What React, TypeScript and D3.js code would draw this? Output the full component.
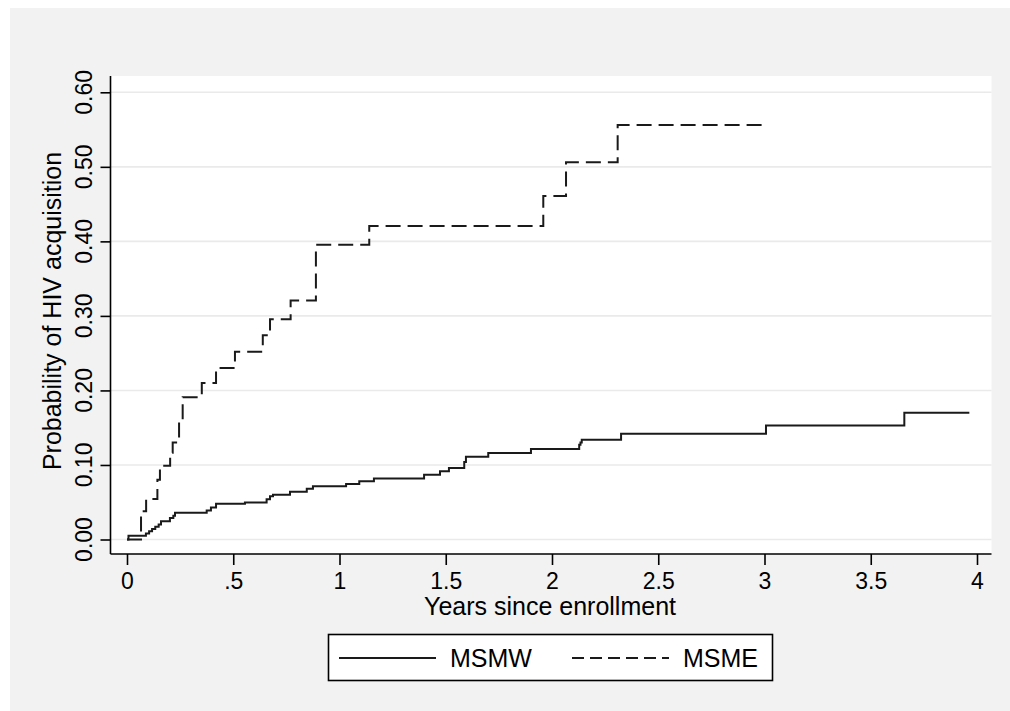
import { useEffect, useRef } from "react";
import * as d3 from "d3";

// Kaplan-Meier style cumulative probability
const msmwTimes = [
  0, 0.007, 0.089, 0.104, 0.118, 0.133, 0.149, 0.16, 0.202, 0.218, 0.226,
  0.375, 0.395, 0.419, 0.555, 0.657, 0.673, 0.687, 0.767, 0.846, 0.875,
  1.031, 1.093, 1.162, 1.398, 1.473, 1.515, 1.587, 1.595, 1.7, 1.901, 2.128,
  2.134, 2.14, 2.325, 3.007, 3.658, 3.964,
];
const msmwValues = [
  0, 0.005, 0.008, 0.011, 0.014, 0.017, 0.02, 0.0245, 0.029, 0.032, 0.036,
  0.039, 0.043, 0.0478, 0.0495, 0.054, 0.058, 0.06, 0.064, 0.068, 0.0714,
  0.0745, 0.078, 0.0817, 0.087, 0.0915, 0.096, 0.104, 0.111, 0.116, 0.1215,
  0.127, 0.13, 0.134, 0.142, 0.153, 0.17, 0.17,
];

const msmeTimes = [
  0, 0.066, 0.09, 0.143, 0.155, 0.203, 0.215, 0.245, 0.262, 0.352, 0.419,
  0.508, 0.639, 0.673, 0.77, 0.889, 1.14, 1.959, 2.066, 2.309, 2.995,
];
const msmeValues = [
  0, 0.038, 0.0545, 0.08, 0.099, 0.1165, 0.13, 0.16, 0.191, 0.21, 0.23,
  0.252, 0.274, 0.2955, 0.3205, 0.3955, 0.4205, 0.461, 0.506, 0.556, 0.556,
];

const yTicks = [0, 0.1, 0.2, 0.3, 0.4, 0.5, 0.6];
const xTicks = [0, 0.5, 1, 1.5, 2, 2.5, 3, 3.5, 4];
const xTickLabels = ["0", ".5", "1", "1.5", "2", "2.5", "3", "3.5", "4"];

const W = 1010;
const H = 711;
const FONT = "Liberation Sans, Arial, sans-serif";

export default function App() {
  const ref = useRef<SVGSVGElement | null>(null);

  useEffect(() => {
    if (!ref.current) return;
    const svg = d3.select(ref.current);
    svg.selectAll("*").remove();

    const plot = { l: 110.5, r: 991.5, t: 76, b: 554 };

    const x = d3.scaleLinear().domain([0, 4]).range([127, 977]);
    const y = d3.scaleLinear().domain([0, 0.6]).range([539.5, 92.3]);

    // ── Backgrounds ─────────────────────────────────────────────────────
    svg
      .append("rect")
      .attr("x", 10)
      .attr("y", 8)
      .attr("width", W - 10)
      .attr("height", H - 8)
      .attr("fill", "#f2f2f2");

    svg
      .append("rect")
      .attr("x", plot.l)
      .attr("y", plot.t)
      .attr("width", plot.r - plot.l)
      .attr("height", plot.b - plot.t)
      .attr("fill", "#ffffff");

    // ── Grid ────────────────────────────────────────────────────────────
    svg
      .append("g")
      .selectAll("line")
      .data(yTicks)
      .enter()
      .append("line")
      .attr("x1", plot.l)
      .attr("x2", plot.r)
      .attr("y1", (d) => y(d))
      .attr("y2", (d) => y(d))
      .attr("stroke", "#eaeaea")
      .attr("stroke-width", 1.6);

    // ── Curves ──────────────────────────────────────────────────────────
    const line = d3
      .line<[number, number]>()
      .x((d) => x(d[0]))
      .y((d) => y(d[1]))
      .curve(d3.curveStepAfter);

    const msmw = msmwTimes.map((t, i) => [t, msmwValues[i]] as [number, number]);
    const msme = msmeTimes.map((t, i) => [t, msmeValues[i]] as [number, number]);

    svg
      .append("path")
      .attr("d", line(msmw))
      .attr("fill", "none")
      .attr("stroke", "#1a1a1a")
      .attr("stroke-width", 2);

    svg
      .append("path")
      .attr("d", line(msme))
      .attr("fill", "none")
      .attr("stroke", "#1a1a1a")
      .attr("stroke-width", 2)
      .attr("stroke-dasharray", "15,7");

    // ── Axes ────────────────────────────────────────────────────────────
    const yAxis = svg
      .append("g")
      .attr("transform", `translate(${plot.l},0)`)
      .call(d3.axisLeft(y).tickValues(yTicks).tickSize(10).tickFormat(() => ""));
    yAxis
      .select(".domain")
      .attr("d", `M0,${plot.t}V${plot.b}`)
      .attr("stroke", "#000")
      .attr("stroke-width", 1.6);
    yAxis.selectAll(".tick line").attr("stroke", "#000").attr("stroke-width", 1.6);

    svg
      .append("g")
      .selectAll("text")
      .data(yTicks)
      .enter()
      .append("text")
      .attr("transform", (d) => `translate(92,${y(d)}) rotate(-90)`)
      .attr("text-anchor", "middle")
      .attr("font-family", FONT)
      .attr("font-size", 23)
      .attr("fill", "#000")
      .text((d) => d3.format(".2f")(d));

    const xAxis = svg
      .append("g")
      .attr("transform", `translate(0,${plot.b})`)
      .call(
        d3
          .axisBottom(x)
          .tickValues(xTicks)
          .tickSize(11)
          .tickPadding(8)
          .tickFormat((_, i) => xTickLabels[i])
      );
    xAxis
      .select(".domain")
      .attr("d", `M${plot.l},0H${plot.r}`)
      .attr("stroke", "#000")
      .attr("stroke-width", 1.6);
    xAxis.selectAll(".tick line").attr("stroke", "#000").attr("stroke-width", 1.6);
    xAxis
      .selectAll("text")
      .attr("font-family", FONT)
      .attr("font-size", 23)
      .attr("fill", "#000");

    // ── Titles ──────────────────────────────────────────────────────────
    svg
      .append("text")
      .attr("x", 550)
      .attr("y", 615)
      .attr("text-anchor", "middle")
      .attr("font-family", FONT)
      .attr("font-size", 25)
      .attr("fill", "#000")
      .text("Years since enrollment");

    svg
      .append("text")
      .attr("transform", "translate(61,311) rotate(-90)")
      .attr("text-anchor", "middle")
      .attr("font-family", FONT)
      .attr("font-size", 25)
      .attr("fill", "#000")
      .text("Probability of HIV acquisition");

    // ── Legend ──────────────────────────────────────────────────────────
    const lg = svg.append("g");
    lg.append("rect")
      .attr("x", 328.5)
      .attr("y", 634.5)
      .attr("width", 444)
      .attr("height", 46)
      .attr("fill", "#fff")
      .attr("stroke", "#000")
      .attr("stroke-width", 1.6);

    const items = [
      { label: "MSMW", x0: 339, tx: 450, dash: null },
      { label: "MSME", x0: 572, tx: 683, dash: "12,6" },
    ];
    items.forEach((it) => {
      lg.append("line")
        .attr("x1", it.x0)
        .attr("x2", it.x0 + 97)
        .attr("y1", 658)
        .attr("y2", 658)
        .attr("stroke", "#1a1a1a")
        .attr("stroke-width", 2)
        .attr("stroke-dasharray", it.dash);
      lg.append("text")
        .attr("x", it.tx)
        .attr("y", 667)
        .attr("font-family", FONT)
        .attr("font-size", 25)
        .attr("fill", "#000")
        .text(it.label);
    });
  }, []);

  return (
    <svg
      ref={ref}
      width={W}
      height={H}
      style={{ position: "absolute", left: 0, top: 0, background: "#fff" }}
    />
  );
}
